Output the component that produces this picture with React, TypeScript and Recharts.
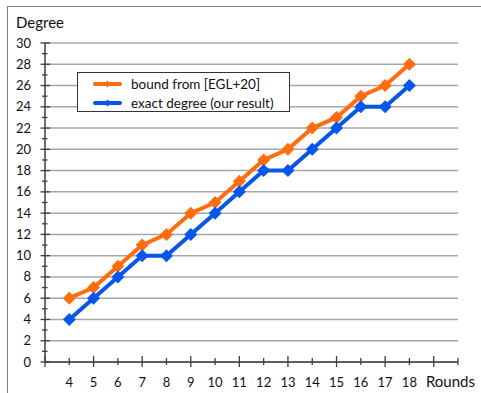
import React from 'react';
import { LineChart, Line, XAxis, YAxis, CartesianGrid, Legend, Label } from 'recharts';

const rounds = [4, 5, 6, 7, 8, 9, 10, 11, 12, 13, 14, 15, 16, 17, 18];
const boundEGL = [6, 7, 9, 11, 12, 14, 15, 17, 19, 20, 22, 23, 25, 26, 28];
const exactDegree = [4, 6, 8, 10, 10, 12, 14, 16, 18, 18, 20, 22, 24, 24, 26];

// axis marks: labelled ones + the in-between minor marks
const roundMarks = [3, 4, 5, 6, 7, 8, 9, 10, 11, 12, 13, 14, 15, 16, 17, 18, 19, 20];
const degreeLabels = [0, 2, 4, 6, 8, 10, 12, 14, 16, 18, 20, 22, 24, 26, 28, 30];
const degreeMarks = [0, 1, 2, 3, 4, 5, 6, 7, 8, 9, 10, 11, 12, 13, 14, 15, 16, 17, 18, 19, 20, 21, 22, 23, 24, 25, 26, 27, 28, 29, 30];

const ORANGE = '#ff6d0e';
const BLUE = '#0656ee';
const AXIS = '#3f3f3f';
const FONT = 'Lato, "Open Sans", sans-serif';

const data = rounds.map((r, i) => ({ round: r, bound: boundEGL[i], exact: exactDegree[i] }));

const series = [
  { key: 'bound', name: 'bound from [EGL+20]', color: ORANGE },
  { key: 'exact', name: 'exact degree (our result)', color: BLUE },
];

const Diamond = (props: any) => {
  const { cx, cy, stroke } = props;
  if (cx == null || cy == null) return null;
  const s = 6.5;
  return <polygon points={`${cx},${cy - s} ${cx + s},${cy} ${cx},${cy + s} ${cx - s},${cy}`} fill={stroke} />;
};

const XTick = (props: any) => {
  const { x, y, payload } = props;
  const v = payload.value;
  const major = v % 2 === 1;
  return (
    <g>
      <line x1={x} x2={x} y1={y - (major ? 6 : 4)} y2={y + (major ? 5 : 3)} stroke={AXIS} strokeWidth={1.3} />
      {rounds.includes(v) && (
        <text x={x} y={y + 24.5} textAnchor="middle" fontSize={13} fill="#111" fontFamily={FONT}>{v}</text>
      )}
    </g>
  );
};

const YTick = (props: any) => {
  const { x, y, payload } = props;
  const v = payload.value;
  const major = degreeLabels.includes(v);
  return (
    <g>
      <line x1={x - (major ? 4.5 : 3)} x2={x + (major ? 5 : 2.5)} y1={y} y2={y} stroke={AXIS} strokeWidth={1.3} />
      {major && (
        <text x={x - 14} y={y} dy="0.35em" textAnchor="end" fontSize={13} fill="#111" fontFamily={FONT}>{v}</text>
      )}
    </g>
  );
};

const LegendBox = () => (
  <div style={{ border: '1.3px solid #333', background: '#fff', width: 213, height: 40, boxSizing: 'border-box', fontFamily: FONT, fontSize: 13.5, color: '#111', paddingTop: 1.5, textAlign: 'left' }}>
    {series.map(s => (
      <div key={s.key} style={{ display: 'flex', alignItems: 'center', height: 19 }}>
        <svg width={48} height={12} style={{ flex: 'none' }}>
          <line x1={17} x2={42} y1={6} y2={6} stroke={s.color} strokeWidth={4} strokeLinecap="round" />
          <polygon points="29.5,2.5 33,6 29.5,9.5 26,6" fill={s.color} />
        </svg>
        <span style={{ marginLeft: 5 }}>{s.name}</span>
      </div>
    ))}
  </div>
);

export default function App() {
  return (
    <div style={{ position: 'absolute', left: 0, top: 0, width: 481, height: 393, background: '#fff', overflow: 'hidden' }}>
      <div style={{ position: 'absolute', left: 7, top: 6, width: 600, height: 600, borderLeft: '1.5px solid #7f7f7f', borderTop: '1.5px solid #7f7f7f' }} />
      <LineChart width={481} height={393} data={data} margin={{ top: 43, right: 23, bottom: 6, left: 5 }} style={{ position: 'absolute', left: 0, top: 0 }}>
        <CartesianGrid vertical={false} horizontalValues={degreeLabels} stroke="#a6a6a6" strokeWidth={1.5} />
        <XAxis
          dataKey="round"
          type="number"
          domain={[3, 20]}
          ticks={roundMarks}
          interval={0}
          height={25}
          tickSize={0}
          tickMargin={0}
          tick={<XTick />}
          tickLine={false}
          axisLine={{ stroke: AXIS, strokeWidth: 1.5 }}
        >
          <Label
            content={(p: any) => {
              const vb = p.viewBox;
              return (
                <text x={vb.x + vb.width + 17} y={vb.y + 24.5} textAnchor="end" fontSize={15} fill="#111" fontFamily={FONT}>Rounds</text>
              );
            }}
          />
        </XAxis>
        <YAxis
          type="number"
          domain={[0, 30]}
          ticks={degreeMarks}
          interval={0}
          width={40}
          tickSize={0}
          tickMargin={0}
          tick={<YTick />}
          tickLine={false}
          axisLine={{ stroke: AXIS, strokeWidth: 1.5 }}
        >
          <Label
            content={(p: any) => {
              const vb = p.viewBox;
              return (
                <text x={vb.x + 11} y={vb.y - 15.5} textAnchor="start" fontSize={15} fill="#111" fontFamily={FONT}>Degree</text>
              );
            }}
          />
        </YAxis>
        <Legend
          layout="horizontal"
          verticalAlign="middle"
          align="center"
          content={<LegendBox />}
          wrapperStyle={{ position: 'absolute', left: 77, top: 72, width: 213, height: 40 }}
        />
        {series.map(s => (
          <Line
            key={s.key}
            dataKey={s.key}
            name={s.name}
            stroke={s.color}
            strokeWidth={4}
            dot={<Diamond />}
            activeDot={false}
            isAnimationActive={false}
          />
        ))}
      </LineChart>
    </div>
  );
}
